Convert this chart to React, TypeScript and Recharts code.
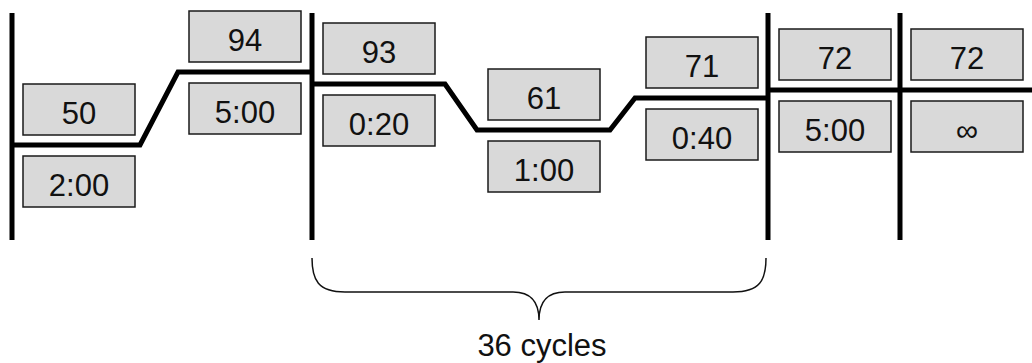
import { LineChart, Line, XAxis, YAxis, ReferenceLine, ReferenceArea } from 'recharts';

const stepTemps = ['50', '94', '93', '61', '71', '72', '72'];
const stepTimes = ['2:00', '5:00', '0:20', '1:00', '0:40', '5:00', '∞'];
const stepStart = [12, 178, 312, 477, 635, 768, 900];
const stepEnd = [140, 310, 445, 610, 766, 900, 1032];
const stepLevel = [218, 291, 279, 233, 265, 273, 273];
const stageBars = [12, 312, 768, 900];
const cycleFrom = 312;
const cycleTo = 766;
const cycleLabel = '36 cycles';

const W = 1032;
const H = 363;
const BOX_W = 112;
const BOX_H = 51;
const FONT = '"Liberation Sans", Arial, Helvetica, sans-serif';

type Pt = { x: number; y: number | null };

const profile: Pt[] = [];
stepLevel.forEach((level, i) => {
  if (i > 0) {
    const gap = stepStart[i] - stepEnd[i - 1];
    if (gap < 5 && level !== stepLevel[i - 1]) {
      profile.push({ x: (stepStart[i] + stepEnd[i - 1]) / 2, y: null });
    }
  }
  profile.push({ x: stepStart[i], y: level });
  profile.push({ x: stepEnd[i], y: level });
});

function labelBox(text: string) {
  return (props: any) => {
    const { x, y, width, height } = props;
    return (
      <g>
        <rect x={x} y={y} width={width} height={height} fill="#d9d9d9" stroke="#1a1a1a" strokeWidth={1.5} />
        <text x={x + width / 2} y={y + 40} textAnchor="middle" fontSize={31} fill="#111" fontFamily={FONT}>
          {text}
        </text>
      </g>
    );
  };
}

function Brace(props: any) {
  const { x, y, width, height } = props;
  const mid = x + width / 2;
  const r = 34;
  const d = [
    `M${x},${y}`,
    `C${x},${y + 22} ${x + 6},${y + r} ${x + 33},${y + r}`,
    `L${mid - 26},${y + r}`,
    `C${mid - 8},${y + r} ${mid},${y + 44} ${mid},${y + height}`,
    `C${mid},${y + 44} ${mid + 8},${y + r} ${mid + 26},${y + r}`,
    `L${x + width - 33},${y + r}`,
    `C${x + width - 6},${y + r} ${x + width},${y + 22} ${x + width},${y}`,
  ].join(' ');
  return (
    <g>
      <path d={d} fill="none" stroke="#111" strokeWidth={1.5} />
      <text x={mid + 3} y={y + height + 36} textAnchor="middle" fontSize={31} fill="#111" fontFamily={FONT}>
        {cycleLabel}
      </text>
    </g>
  );
}

export default function App() {
  return (
    <div style={{ position: 'absolute', left: 0, top: 0, width: W, height: H, background: '#fff', fontFamily: FONT }}>
      <LineChart width={W} height={H} data={profile} margin={{ top: 0, right: 0, bottom: 0, left: 0 }}>
        <XAxis type="number" dataKey="x" domain={[0, W]} hide allowDataOverflow />
        <YAxis type="number" domain={[0, H]} hide allowDataOverflow />

        <ReferenceArea x1={cycleFrom} x2={cycleTo} y1={43} y2={105} shape={Brace} ifOverflow="visible" />

        {stageBars.map((bx) => (
          <ReferenceLine
            key={bx}
            segment={[{ x: bx, y: 123 }, { x: bx, y: 350 }]}
            stroke="#000"
            strokeWidth={5}
            ifOverflow="visible"
          />
        ))}

        <Line
          type="linear"
          dataKey="y"
          stroke="#000"
          strokeWidth={5}
          dot={false}
          activeDot={false}
          connectNulls={false}
          isAnimationActive={false}
        />

        {stepLevel.map((level, i) => (
          <ReferenceArea
            key={'t' + i}
            x1={stepStart[i] + 11}
            x2={stepStart[i] + 11 + BOX_W}
            y1={level + 10}
            y2={level + 10 + BOX_H}
            shape={labelBox(stepTemps[i])}
            ifOverflow="visible"
          />
        ))}
        {stepLevel.map((level, i) => (
          <ReferenceArea
            key={'d' + i}
            x1={stepStart[i] + 11}
            x2={stepStart[i] + 11 + BOX_W}
            y1={level - 11 - BOX_H}
            y2={level - 11}
            shape={labelBox(stepTimes[i])}
            ifOverflow="visible"
          />
        ))}
      </LineChart>
    </div>
  );
}
